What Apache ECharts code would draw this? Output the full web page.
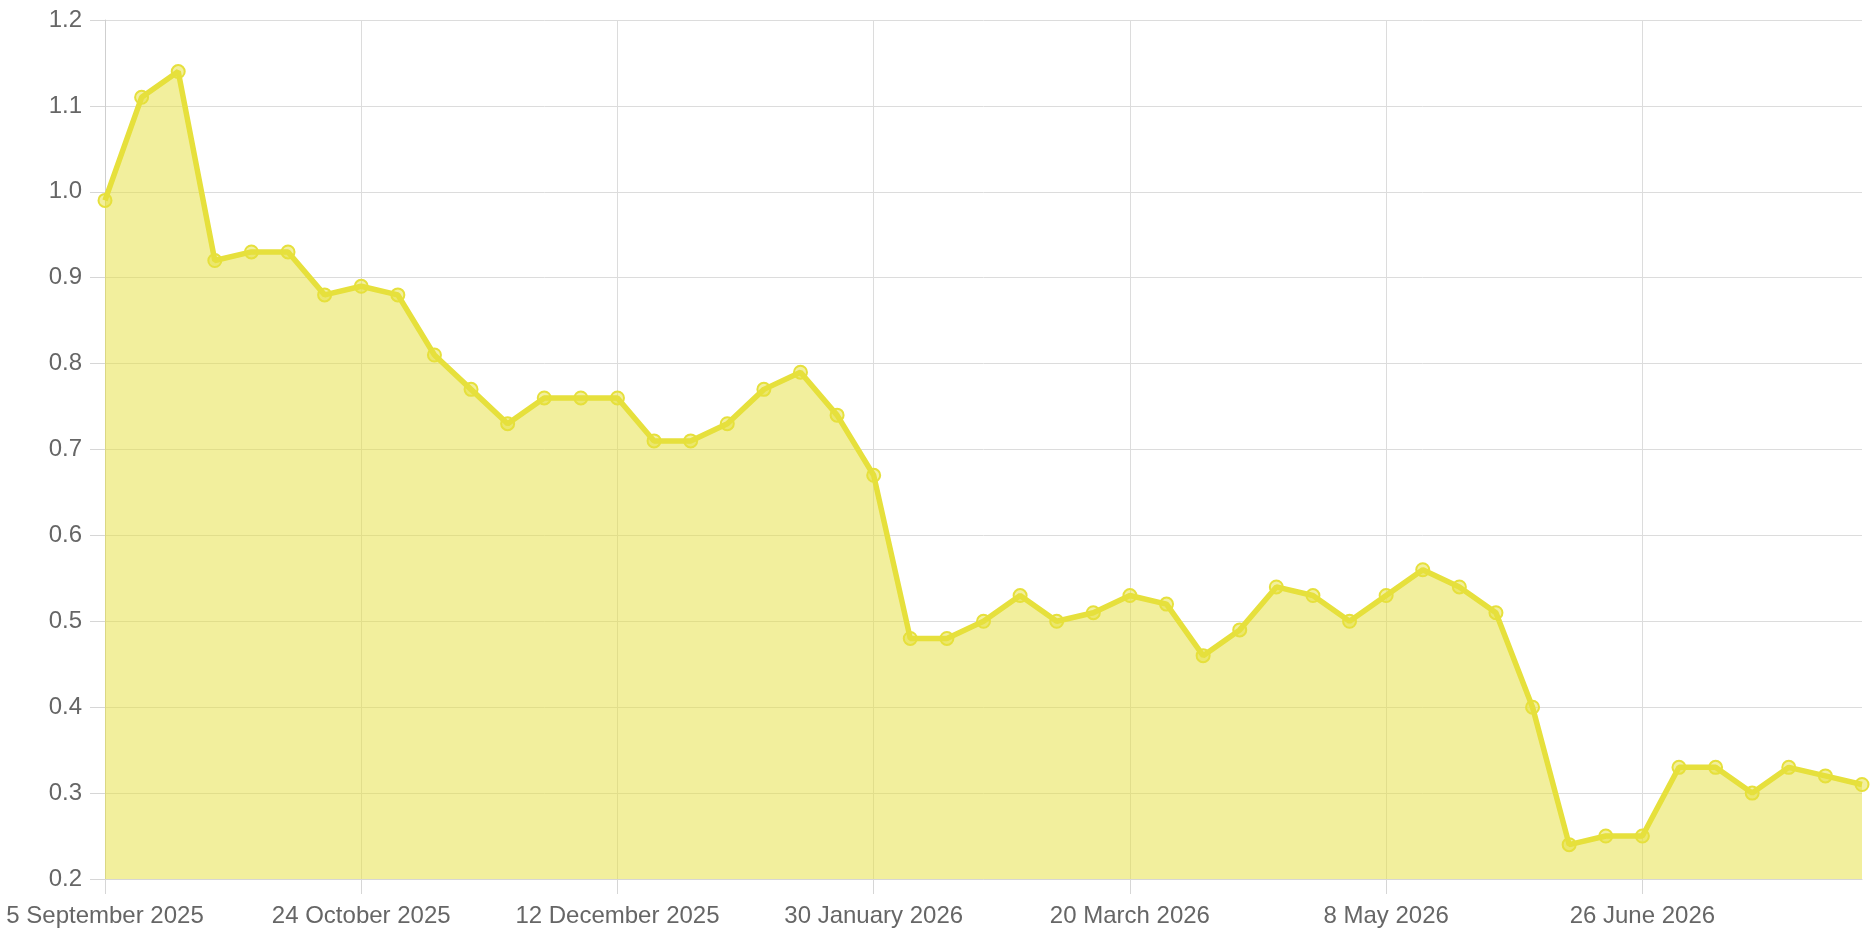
<!DOCTYPE html>
<html>
<head>
<meta charset="utf-8">
<script src="https://cdn.jsdelivr.net/npm/echarts@6/dist/echarts.min.js"></script>
<style>
html,body{margin:0;padding:0;background:#fff;}
#chart{width:1872px;height:936px;}
</style>
</head>
<body>
<div id="chart"></div>
<script>
const dates = [
  "2025-09-05","2025-09-12","2025-09-19","2025-09-26","2025-10-03","2025-10-10","2025-10-17",
  "2025-10-24","2025-10-31","2025-11-07","2025-11-14","2025-11-21","2025-11-28","2025-12-05",
  "2025-12-12","2025-12-19","2025-12-26","2026-01-02","2026-01-09","2026-01-16","2026-01-23",
  "2026-01-30","2026-02-06","2026-02-13","2026-02-20","2026-02-27","2026-03-06","2026-03-13",
  "2026-03-20","2026-03-27","2026-04-03","2026-04-10","2026-04-17","2026-04-24","2026-05-01",
  "2026-05-08","2026-05-15","2026-05-22","2026-05-29","2026-06-05","2026-06-12","2026-06-19",
  "2026-06-26","2026-07-03","2026-07-10","2026-07-17","2026-07-24","2026-07-31","2026-08-07"
];
const values = [
  0.99,1.11,1.14,0.92,0.93,0.93,0.88,
  0.89,0.88,0.81,0.77,0.73,0.76,0.76,
  0.76,0.71,0.71,0.73,0.77,0.79,0.74,
  0.67,0.48,0.48,0.50,0.53,0.50,0.51,
  0.53,0.52,0.46,0.49,0.54,0.53,0.50,
  0.53,0.56,0.54,0.51,0.40,0.24,0.25,
  0.25,0.33,0.33,0.30,0.33,0.32,0.31
];
const monthNames = ["January","February","March","April","May","June","July","August","September","October","November","December"];
const yMin = 0.2, yMax = 1.2, yStep = 0.1;
const labelEvery = 7;

function fmt(d){
  const p = d.split("-");
  return parseInt(p[2],10) + " " + monthNames[parseInt(p[1],10)-1] + " " + p[0];
}
const categories = dates.map(fmt);

const chart = echarts.init(document.getElementById('chart'), null, {renderer:'canvas'});
const font = "'Liberation Sans', Arial, Helvetica, sans-serif";
const every = function(i){return i%labelEvery===0;};
chart.setOption({
  animation:false,
  grid:{left:105,right:10,top:20,bottom:57,containLabel:false},
  xAxis:{
    type:'category',
    data:categories,
    boundaryGap:false,
    axisLine:{show:true,lineStyle:{color:'#d6d6d6',width:1}},
    axisTick:{show:true,length:15,interval:every,lineStyle:{color:'#d6d6d6'}},
    axisLabel:{interval:every,color:'#666',fontSize:24,fontFamily:font,margin:25},
    splitLine:{show:true,interval:every,lineStyle:{color:'#dcdcdc',width:1}}
  },
  yAxis:{
    type:'value',
    min:yMin,max:yMax,interval:yStep,
    axisLine:{show:true,lineStyle:{color:'#cfcfcf',width:1}},
    axisTick:{show:true,length:15,lineStyle:{color:'#d6d6d6'}},
    axisLabel:{color:'#666',fontSize:24,fontFamily:font,margin:23,formatter:function(v){return v.toFixed(1);}},
    splitLine:{show:true,lineStyle:{color:'#dcdcdc',width:1}}
  },
  series:[{
    type:'line',
    data:values,
    symbol:'circle',
    symbolSize:13,
    showAllSymbol:true,
    lineStyle:{color:'rgb(230,224,60)',width:5.5},
    itemStyle:{color:'rgba(230,224,60,0.5)',borderColor:'rgb(230,224,60)',borderWidth:2},
    areaStyle:{color:'rgba(230,224,60,0.5)',opacity:1,origin:'start'},
    z:3
  }]
});
</script>
</body>
</html>
